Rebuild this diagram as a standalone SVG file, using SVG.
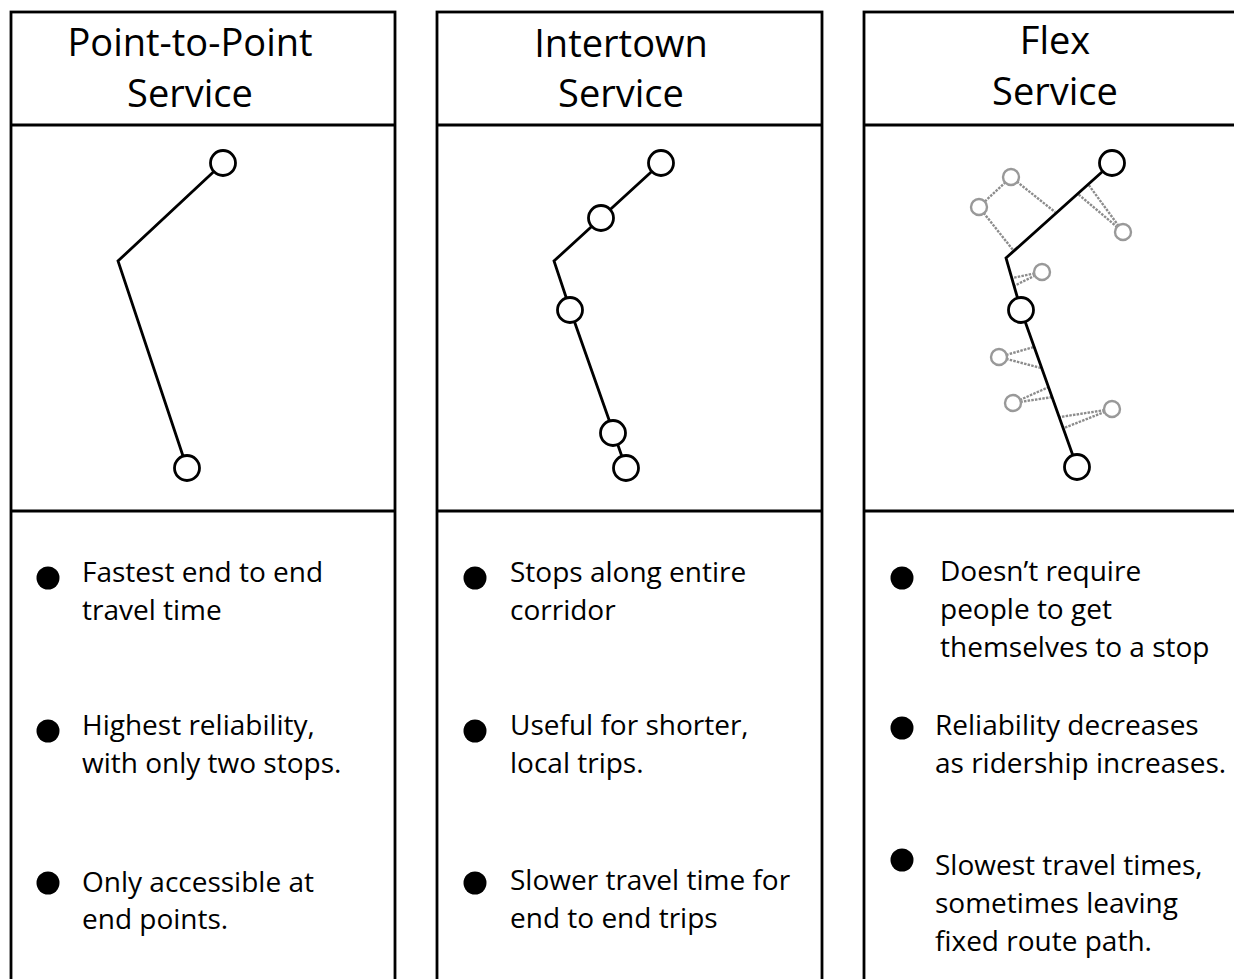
<svg xmlns="http://www.w3.org/2000/svg" width="1234" height="979" viewBox="0 0 1234 979">
<style>
.panel{fill:#fff;stroke:#000;stroke-width:2.8}
.div{stroke:#000;stroke-width:2.8}
.hd{font-family:"Open Sans","Noto Sans",sans-serif;font-size:38px;fill:#000;text-anchor:middle}
.tx{font-family:"Open Sans","Noto Sans",sans-serif;font-size:28px;fill:#000}
.route{fill:none;stroke:#000;stroke-width:2.8;stroke-linejoin:miter}
.stop{fill:#fff;stroke:#000;stroke-width:2.8}
.flex{fill:#fff;stroke:#999;stroke-width:2.4}
.dot{stroke:#8c8c8c;stroke-width:2.4;stroke-dasharray:2.5 1.2;fill:none}
.bul{fill:#000}
</style>
<g id="panel-p2p">
<rect class="panel" x="11" y="12" width="384" height="990"/>
<line class="div" x1="11" y1="125" x2="395" y2="125"/>
<line class="div" x1="11" y1="511" x2="395" y2="511"/>
<text class="hd" x="190" y="56">Point-to-Point</text>
<text class="hd" x="190" y="107">Service</text>
<polyline class="route" points="223,163 118,261 187,468"/>
<circle class="stop" cx="223" cy="163" r="12.5"/>
<circle class="stop" cx="187" cy="468" r="12.5"/>
<circle class="bul" cx="48" cy="578" r="11.5"/>
<text class="tx" x="82" y="582">Fastest end to end</text>
<text class="tx" x="82" y="620">travel time</text>
<circle class="bul" cx="48" cy="731" r="11.5"/>
<text class="tx" x="82" y="735">Highest reliability,</text>
<text class="tx" x="82" y="773">with only two stops.</text>
<circle class="bul" cx="48" cy="883" r="11.5"/>
<text class="tx" x="82" y="892">Only accessible at</text>
<text class="tx" x="82" y="929">end points.</text>
</g>
<g id="panel-intertown">
<rect class="panel" x="437" y="12" width="385" height="990"/>
<line class="div" x1="437" y1="125" x2="822" y2="125"/>
<line class="div" x1="437" y1="511" x2="822" y2="511"/>
<text class="hd" x="621" y="57">Intertown</text>
<text class="hd" x="621" y="107">Service</text>
<polyline class="route" points="661,163 554,261 570,309 626,468"/>
<circle class="stop" cx="661" cy="163" r="12.5"/>
<circle class="stop" cx="601" cy="218" r="12.5"/>
<circle class="stop" cx="570" cy="310" r="12.5"/>
<circle class="stop" cx="613" cy="433" r="12.5"/>
<circle class="stop" cx="626" cy="468" r="12.5"/>
<circle class="bul" cx="475" cy="578" r="11.5"/>
<text class="tx" x="510" y="582">Stops along entire</text>
<text class="tx" x="510" y="620">corridor</text>
<circle class="bul" cx="475" cy="731" r="11.5"/>
<text class="tx" x="510" y="735">Useful for shorter,</text>
<text class="tx" x="510" y="773">local trips.</text>
<circle class="bul" cx="475" cy="883" r="11.5"/>
<text class="tx" x="510" y="890">Slower travel time for</text>
<text class="tx" x="510" y="928">end to end trips</text>
</g>
<g id="panel-flex">
<rect class="panel" x="864" y="12" width="400" height="990"/>
<line class="div" x1="864" y1="125" x2="1240" y2="125"/>
<line class="div" x1="864" y1="511" x2="1240" y2="511"/>
<text class="hd" x="1055" y="54">Flex</text>
<text class="hd" x="1055" y="105">Service</text>
<g id="flex-connectors">
<line class="dot" x1="1011" y1="177" x2="979" y2="207"/>
<line class="dot" x1="1011" y1="177" x2="1055" y2="212"/>
<line class="dot" x1="979" y1="207" x2="1013" y2="250"/>
<line class="dot" x1="1123" y1="232" x2="1078" y2="194"/>
<line class="dot" x1="1123" y1="232" x2="1088" y2="184"/>
<line class="dot" x1="1042" y1="272" x2="1012" y2="278"/>
<line class="dot" x1="1042" y1="272" x2="1014" y2="286"/>
<line class="dot" x1="999" y1="357" x2="1034" y2="347"/>
<line class="dot" x1="999" y1="357" x2="1041" y2="368"/>
<line class="dot" x1="1013" y1="403" x2="1049" y2="387"/>
<line class="dot" x1="1013" y1="403" x2="1053" y2="397"/>
<line class="dot" x1="1112" y1="409" x2="1060" y2="417"/>
<line class="dot" x1="1112" y1="409" x2="1064" y2="428"/>
<polyline class="route" points="1112,163 1006,258 1021,310 1077,467"/>
</g>
<circle class="flex" cx="1011" cy="177" r="8"/>
<circle class="flex" cx="979" cy="207" r="8"/>
<circle class="flex" cx="1123" cy="232" r="8"/>
<circle class="flex" cx="1042" cy="272" r="8"/>
<circle class="flex" cx="999" cy="357" r="8"/>
<circle class="flex" cx="1013" cy="403" r="8"/>
<circle class="flex" cx="1112" cy="409" r="8"/>
<circle class="stop" cx="1112" cy="163" r="12.5"/>
<circle class="stop" cx="1021" cy="310" r="12.5"/>
<circle class="stop" cx="1077" cy="467" r="12.5"/>
<circle class="bul" cx="902" cy="578" r="11.5"/>
<text class="tx" x="940" y="581">Doesn’t require</text>
<text class="tx" x="940" y="619">people to get</text>
<text class="tx" x="940" y="657">themselves to a stop</text>
<circle class="bul" cx="902" cy="728" r="11.5"/>
<text class="tx" x="935" y="735">Reliability decreases</text>
<text class="tx" x="935" y="773">as ridership increases.</text>
<circle class="bul" cx="902" cy="860" r="11.5"/>
<text class="tx" x="935" y="875">Slowest travel times,</text>
<text class="tx" x="935" y="913">sometimes leaving</text>
<text class="tx" x="935" y="951">fixed route path.</text>
</g>
</svg>
